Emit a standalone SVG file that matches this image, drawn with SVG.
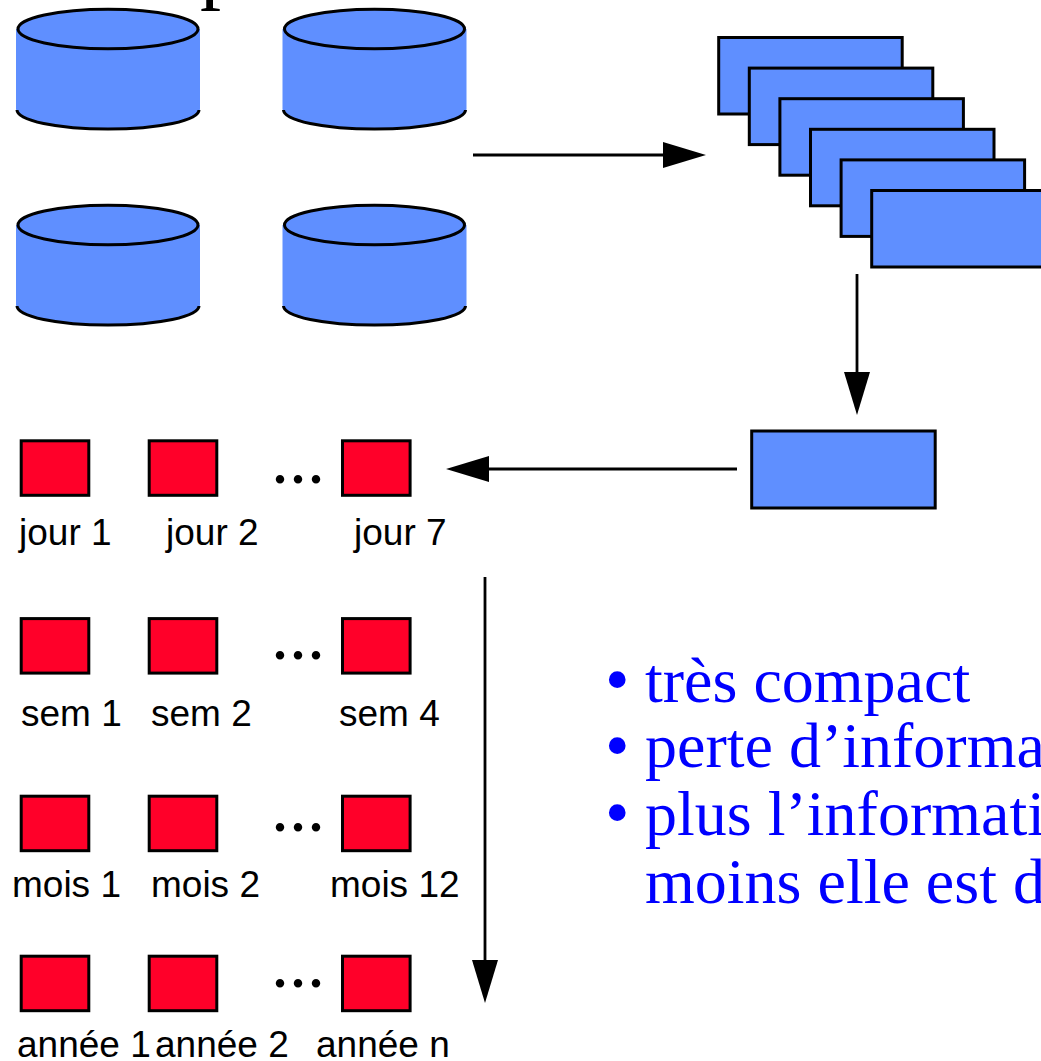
<svg xmlns="http://www.w3.org/2000/svg" width="1041" height="1061" viewBox="0 0 1041 1061">
<style>
.lbl{font-family:"Liberation Sans",Arial,sans-serif;font-size:37px;fill:#000}
.big{font-family:"Liberation Serif","Times New Roman",serif;font-size:64px;fill:#00f}
.bul{font-family:"Liberation Serif","Times New Roman",serif;font-size:70px;fill:#00f}
.dots{font-family:"Liberation Serif","Times New Roman",serif;font-size:72px;fill:#000}
.blue{fill:#5f8fff;stroke:#000;stroke-width:3}
.red{fill:#ff0029;stroke:#000;stroke-width:3}
.body{fill:#5f8fff;stroke:none}
.edge{fill:none;stroke:#000;stroke-width:3}
.top{fill:#5f8fff;stroke:#000;stroke-width:3}
.conn{stroke:#000;stroke-width:2.800;fill:none}
</style>
<defs>
<g id="cyl">
<path class="body" d="M0 0H184V80A92 19.700 0 0 1 0 80Z"/>
<path class="edge" d="M1 81A91 19 0 0 0 183 81"/>
<ellipse class="top" cx="92" cy="0" rx="90" ry="19.700"/>
</g>
<g id="sq"><rect class="red" x="0" y="0" width="67.600" height="54.500"/></g>
<marker id="ah" markerUnits="userSpaceOnUse" markerWidth="44" markerHeight="26" refX="33" refY="13" orient="auto"><path d="M0 0L43 13L0 26Z" fill="#000"/></marker>
</defs>
<text id="clipped-title" x="200" y="-7" style="font-family:'Liberation Serif','Times New Roman',serif;font-size:84px;fill:#000">p</text>
<g id="db1"><use href="#cyl" x="16" y="29"/></g>
<g id="db2"><use href="#cyl" x="282.500" y="29"/></g>
<g id="db3"><use href="#cyl" x="16" y="225"/></g>
<g id="db4"><use href="#cyl" x="282.500" y="225"/></g>
<g id="stack">
<rect class="blue" x="718.700" y="37.500" width="183.500" height="76.500"/>
<rect class="blue" x="749.300" y="68.100" width="183.500" height="76.500"/>
<rect class="blue" x="779.900" y="98.700" width="183.500" height="76.500"/>
<rect class="blue" x="810.500" y="129.300" width="183.500" height="76.500"/>
<rect class="blue" x="841.100" y="159.900" width="183.500" height="76.500"/>
<rect class="blue" x="871.700" y="190.500" width="183.500" height="76.500"/>
</g>
<g id="merged"><rect class="blue" x="751.700" y="431" width="183.500" height="77"/></g>
<g id="connectors">
<path class="conn" marker-end="url(#ah)" d="M473 155H696"/>
<path class="conn" marker-end="url(#ah)" d="M857 274V405"/>
<path class="conn" marker-end="url(#ah)" d="M737 469H456"/>
<path class="conn" marker-end="url(#ah)" d="M485 577V993"/>
</g>
<g id="jour">
<use href="#sq" x="21.200" y="440.800"/><use href="#sq" x="149.200" y="440.800"/><use href="#sq" x="342.500" y="440.800"/>
<text class="dots" x="271" y="483">...</text>
<text class="lbl" x="19" y="545">jour 1</text><text class="lbl" x="166" y="545">jour 2</text><text class="lbl" x="354" y="545">jour 7</text>
</g>
<g id="sem">
<use href="#sq" x="21.200" y="618.600"/><use href="#sq" x="149.200" y="618.600"/><use href="#sq" x="342.500" y="618.600"/>
<text class="dots" x="271" y="659">...</text>
<text class="lbl" x="21" y="726">sem 1</text><text class="lbl" x="151" y="726">sem 2</text><text class="lbl" x="339" y="726">sem 4</text>
</g>
<g id="mois">
<use href="#sq" x="21.200" y="796.200"/><use href="#sq" x="149.200" y="796.200"/><use href="#sq" x="342.500" y="796.200"/>
<text class="dots" x="271" y="830.500">...</text>
<text class="lbl" x="12" y="897">mois 1</text><text class="lbl" x="151" y="897">mois 2</text><text class="lbl" x="330" y="897">mois 12</text>
</g>
<g id="annee">
<use href="#sq" x="21.200" y="956.200"/><use href="#sq" x="149.200" y="956.200"/><use href="#sq" x="342.500" y="956.200"/>
<text class="dots" x="271" y="987">...</text>
<text class="lbl" x="17" y="1057">année 1</text><text class="lbl" x="155" y="1057">année 2</text><text class="lbl" x="316" y="1057">année n</text>
</g>
<g id="notes">
<text class="bul" x="605" y="703">•</text><text class="big" x="645" y="702">très compact</text>
<text class="bul" x="605" y="769">•</text><text class="big" x="645" y="767">perte d’informa</text>
<text class="bul" x="605" y="836">•</text><text class="big" x="645" y="835">plus l’informati</text>
<text class="big" x="645" y="903">moins elle est d</text>
</g>
</svg>
